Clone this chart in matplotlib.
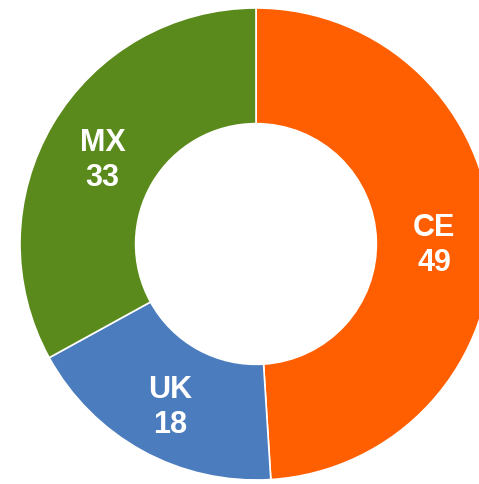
import numpy as np
import matplotlib.pyplot as plt

# data
labels = ["CE", "UK", "MX"]
values = [49, 18, 33]
colors = ["#FF5F00", "#4A7CBE", "#5B8A1C"]

fig = plt.figure(figsize=(4.79, 4.84), dpi=100)
ax = fig.add_axes([0, 0, 1, 1])

wedges, texts = ax.pie(
    values,
    colors=colors,
    startangle=90,
    counterclock=False,
    radius=1.0,
    wedgeprops=dict(width=0.49, edgecolor="white", linewidth=1.2),
)

# labels at the middle of the ring
for w, lab, val in zip(wedges, labels, values):
    ang = np.deg2rad((w.theta1 + w.theta2) / 2)
    r = 0.755
    ax.text(
        r * np.cos(ang), r * np.sin(ang) - 0.03,
        f"{lab}\n{val}",
        ha="center", va="center",
        color="white", fontsize=22, fontweight="bold",
        family="Liberation Sans",
    )

# put the centre at about (256, 244) px, radius ~236 px
ax.set_aspect("auto")
ax.set_xlim(-256 / 236, (479 - 256) / 236)
ax.set_ylim(-(484 - 244) / 236, 244 / 236)
ax.axis("off")

fig.savefig("out.png", dpi=100)
